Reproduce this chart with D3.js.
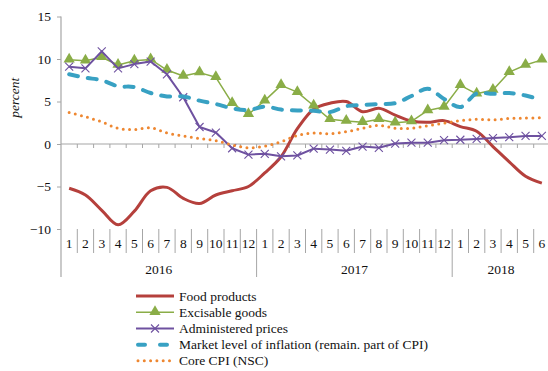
<!DOCTYPE html>
<html>
<head>
<meta charset="utf-8">
<script src="https://cdn.jsdelivr.net/npm/d3@7"></script>
<style>
  html, body { margin: 0; padding: 0; background: #fff; }
  svg { display: block; }
  text { font-family: "Liberation Serif", "Times New Roman", serif; fill: #111; }
</style>
</head>
<body>
<svg id="chart" width="548" height="371"></svg>
<script>
// Month labels along the bottom, grouped by year
const months = ["1","2","3","4","5","6","7","8","9","10","11","12",
                "1","2","3","4","5","6","7","8","9","10","11","12",
                "1","2","3","4","5","6"];
const years = ["2016", "2017", "2018"];
const monthsPerYear = [12, 12, 6];
const yTicks = [-10, -5, 0, 5, 10, 15];

// Annual price growth by component, percent
const foodProducts = [-5.2, -6.0, -7.8, -9.5, -7.9, -5.5, -5.1, -6.4, -7.0, -6.0, -5.5, -5.0,
                      -3.4, -1.5, 1.8, 4.1, 4.8, 5.0, 3.8, 4.2, 3.4, 2.7, 2.55, 2.75,
                      2.05, 1.5, -0.3, -2.1, -3.8, -4.6];
const excisableGoods = [9.9, 9.8, 10.2, 9.3, 9.8, 9.95, 8.7, 8.0, 8.4, 7.85, 4.8, 3.5,
                        5.1, 6.9, 6.1, 4.5, 2.9, 2.7, 2.55, 2.9, 2.5, 2.65, 3.95, 4.35,
                        6.9, 5.9, 6.35, 8.45, 9.3, 9.9];
const administeredPrices = [9.1, 8.9, 10.9, 8.9, 9.4, 9.7, 8.2, 5.5, 2.0, 1.35, -0.5, -1.25,
                            -1.15, -1.45, -1.35, -0.55, -0.65, -0.8, -0.3, -0.45, 0.05, 0.15, 0.15, 0.45,
                            0.5, 0.6, 0.7, 0.8, 0.95, 0.95];
const marketInflation = [8.2, 7.8, 7.5, 6.8, 6.7, 6.0, 5.6, 5.6, 5.1, 4.7, 4.2, 4.0,
                         4.4, 4.05, 3.95, 3.9, 3.75, 4.45, 4.6, 4.7, 4.8, 5.65, 6.5, 5.3,
                         4.35, 5.95, 5.9, 6.0, 5.7, 5.2];
const coreCPI = [3.7, 3.2, 2.6, 1.85, 1.7, 1.9, 1.3, 0.95, 0.65, 0.4, -0.1, -0.45,
                 -0.25, 0.25, 1.0, 1.3, 1.2, 1.45, 1.85, 2.2, 1.85, 1.85, 2.15, 2.45,
                 2.75, 2.9, 2.85, 3.0, 3.05, 3.1];

const seriesNames = ["Food products", "Excisable goods", "Administered prices",
                     "Market level of inflation (remain. part of CPI)", "Core CPI (NSC)"];

const fontSize = 13.5;
const svg = d3.select("#chart");
svg.append("rect").attr("width", 548).attr("height", 371).attr("fill", "#fff");

const plotLeft = 61, plotRight = 550;
const x = d3.scaleBand().domain(d3.range(months.length)).range([plotLeft, plotRight]);
const y = d3.scaleLinear().domain([-10, 15]).range([229, 16.5]);
const cx = i => x(i) + x.bandwidth() / 2;
const axisColor = "#a6a6a6";

// Y axis
const yAxis = svg.append("g")
  .attr("transform", `translate(${plotLeft},0)`)
  .call(d3.axisLeft(y).tickValues(yTicks).tickSize(4).tickPadding(6).tickFormat(d3.format("d")));
yAxis.select(".domain").remove();
yAxis.selectAll(".tick line").attr("stroke", axisColor);
yAxis.selectAll(".tick text")
  .attr("font-family", "Liberation Serif, serif").attr("font-size", fontSize).attr("fill", "#111");
svg.append("line")
  .attr("x1", plotLeft).attr("x2", plotLeft).attr("y1", y(15)).attr("y2", 277)
  .attr("stroke", axisColor).attr("stroke-width", 1.2);

svg.append("text")
  .attr("transform", `translate(19,${(y(5) + y(0)) / 2 - 25}) rotate(-90)`)
  .attr("text-anchor", "middle")
  .attr("font-style", "italic").attr("font-size", fontSize)
  .text("percent");

// Zero line with small ticks at month boundaries
svg.append("line")
  .attr("x1", plotLeft).attr("x2", plotRight).attr("y1", y(0)).attr("y2", y(0))
  .attr("stroke", axisColor).attr("stroke-width", 1.2);
svg.append("g").selectAll("line")
  .data(d3.range(1, months.length + 1))
  .join("line")
  .attr("x1", i => plotLeft + i * x.step()).attr("x2", i => plotLeft + i * x.step())
  .attr("y1", y(0)).attr("y2", y(0) + 4)
  .attr("stroke", axisColor);

// Month labels
const xAxis = svg.append("g")
  .attr("transform", "translate(0,238)")
  .call(d3.axisBottom(x).tickSize(0).tickPadding(0).tickFormat(i => months[i]));
xAxis.select(".domain").remove();
xAxis.selectAll(".tick text")
  .attr("font-family", "Liberation Serif, serif").attr("font-size", fontSize).attr("fill", "#111");

// Separators between months, taller between years
const yearStarts = [];
monthsPerYear.reduce((acc, n) => { yearStarts.push(acc); return acc + n; }, 0);
svg.append("g").selectAll("line")
  .data(d3.range(1, months.length + 1))
  .join("line")
  .attr("x1", i => plotLeft + i * x.step()).attr("x2", i => plotLeft + i * x.step())
  .attr("y1", 229)
  .attr("y2", i => yearStarts.includes(i) ? 277 : 253)
  .attr("stroke", axisColor);

// Year labels
svg.append("g").selectAll("text")
  .data(years)
  .join("text")
  .attr("x", (d, k) => {
    const a = yearStarts[k], b = a + monthsPerYear[k];
    return (plotLeft + a * x.step() + plotLeft + b * x.step()) / 2;
  })
  .attr("y", 274)
  .attr("text-anchor", "middle")
  .attr("font-size", fontSize)
  .text(d => d);

// Series
const straight = d3.line().x((d, i) => cx(i)).y(d => y(d));
const smooth = d3.line().x((d, i) => cx(i)).y(d => y(d)).curve(d3.curveCatmullRom.alpha(0.5));

const styles = [
  { data: foodProducts, color: "#b5403c", width: 3, dash: null, cap: "butt", gen: smooth },
  { data: excisableGoods, color: "#8aad47", width: 1.5, dash: null, cap: "butt", gen: straight, marker: "tri" },
  { data: administeredPrices, color: "#6e51a0", width: 2, dash: null, cap: "butt", gen: straight, marker: "x" },
  { data: marketInflation, color: "#38a1c3", width: 4, dash: "9 10", cap: "round", gen: smooth },
  { data: coreCPI, color: "#ee8731", width: 3, dash: "0 6.3", cap: "round", gen: smooth }
];

const tri = d3.symbol().type(d3.symbolTriangle).size(55);

styles.forEach(s => {
  const g = svg.append("g");
  g.append("path")
    .attr("d", s.gen(s.data))
    .attr("fill", "none")
    .attr("stroke", s.color)
    .attr("stroke-width", s.width)
    .attr("stroke-linecap", s.cap)
    .attr("stroke-linejoin", "round")
    .attr("stroke-dasharray", s.dash);
  if (s.marker === "tri") {
    g.selectAll("path.m").data(s.data).join("path").attr("class", "m")
      .attr("d", tri)
      .attr("transform", (d, i) => `translate(${cx(i)},${y(d) - 0.5})`)
      .attr("fill", s.color);
  } else if (s.marker === "x") {
    g.selectAll("path.m").data(s.data).join("path").attr("class", "m")
      .attr("d", "M-4,-4L4,4M-4,4L4,-4")
      .attr("transform", (d, i) => `translate(${cx(i)},${y(d)})`)
      .attr("stroke", s.color).attr("stroke-width", 1.1).attr("fill", "none");
  }
});

// Legend
const legend = svg.append("g");
const rowY = [296, 312.3, 328.5, 344.7, 360.8];
styles.forEach((s, k) => {
  const ry = rowY[k];
  legend.append("line")
    .attr("x1", s.dash ? 138 : 136).attr("x2", 174).attr("y1", ry).attr("y2", ry)
    .attr("stroke", s.color).attr("stroke-width", s.width)
    .attr("stroke-linecap", s.cap)
    .attr("stroke-dasharray", s.dash ? (k === 3 ? "7 15" : "0 6.3") : null);
  if (s.marker === "tri") {
    legend.append("path").attr("d", tri).attr("transform", `translate(155,${ry - 0.5})`).attr("fill", s.color);
  } else if (s.marker === "x") {
    legend.append("path").attr("d", "M-4,-4L4,4M-4,4L4,-4")
      .attr("transform", `translate(155,${ry})`)
      .attr("stroke", s.color).attr("stroke-width", 1.1);
  }
  legend.append("text")
    .attr("x", 179).attr("y", ry + 4.5)
    .attr("font-size", fontSize)
    .text(seriesNames[k]);
});
</script>
</body>
</html>
